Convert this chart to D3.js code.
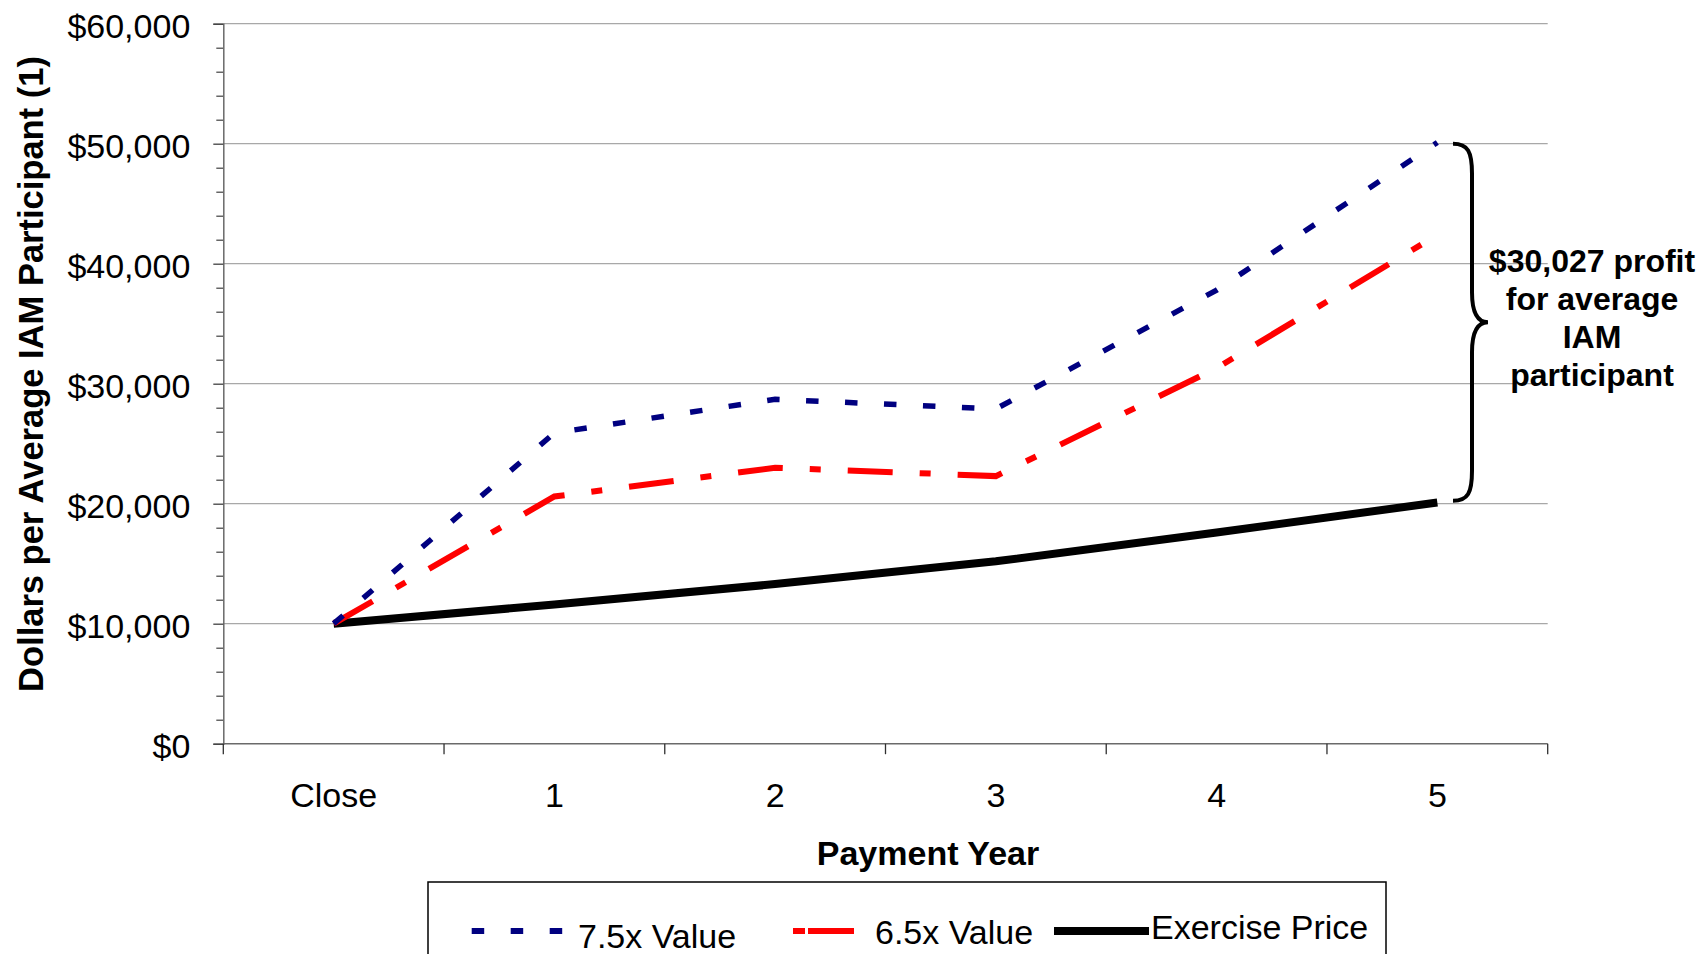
<!DOCTYPE html>
<html>
<head>
<meta charset="utf-8">
<script src="https://cdn.jsdelivr.net/npm/d3@7"></script>
<style>
  html, body { margin: 0; padding: 0; background: #fff; }
  svg { display: block; }
  text { font-family: "Liberation Sans", Arial, Helvetica, sans-serif; }
</style>
</head>
<body>
<svg id="chart" width="1700" height="954"></svg>
<script>
// ---- data ----
const categories = ["Close", "1", "2", "3", "4", "5"];
const value75 = [10000, 25900, 28700, 27900, 37800, 50100];
const value65 = [10000, 20600, 23000, 22300, 31300, 42400];
const exercisePrice = [10000, 11600, 13300, 15200, 17600, 20100];
const yMajorTicks = [0, 10000, 20000, 30000, 40000, 50000, 60000];
const yMinorTicks = d3.range(0, 60001, 2000).filter(v => v % 10000 !== 0);
const seriesNames = ["7.5x Value", "6.5x Value", "Exercise Price"];
const annotationLines = ["$30,027 profit", "for average", "IAM", "participant"];
const braceRange = [50000, 20000];
const yTitle = "Dollars per Average IAM Participant (1)";
const xTitle = "Payment Year";

// ---- layout ----
const svg = d3.select("#chart");
const plotL = 223.3, plotR = 1547.7, plotT = 23.7, plotB = 743.7;
const FONT = 34;

const x = d3.scaleBand().domain(categories).range([plotL, plotR]).padding(0);
const xc = c => x(c) + x.bandwidth() / 2;
const y = d3.scaleLinear().domain([0, 60000]).range([plotB, plotT]);
const fmt = v => "$" + d3.format(",")(v);

// gridlines
svg.append("g").selectAll("line")
  .data(yMajorTicks.filter(v => v > 0))
  .join("line")
  .attr("x1", plotL).attr("x2", plotR)
  .attr("y1", d => y(d)).attr("y2", d => y(d))
  .attr("stroke", "#a8a8a8").attr("stroke-width", 1.3);

// y axis minor ticks
const yMinor = svg.append("g").attr("transform", `translate(${plotL},0)`)
  .call(d3.axisLeft(y).tickValues(yMinorTicks).tickSize(7).tickFormat(""));
yMinor.select(".domain").remove();
yMinor.selectAll("line").attr("stroke", "#404040").attr("stroke-width", 1.2);

// y axis major
const yAx = svg.append("g").attr("transform", `translate(${plotL},0)`)
  .call(d3.axisLeft(y).tickValues(yMajorTicks).tickSize(10).tickPadding(23).tickFormat(fmt));
yAx.select(".domain").attr("stroke", "#6a6a6a").attr("stroke-width", 1.5);
yAx.selectAll(".tick line").attr("stroke", "#404040").attr("stroke-width", 1.3);
yAx.selectAll("text").attr("font-size", FONT).attr("fill", "#000")
  .attr("font-family", '"Liberation Sans", Arial, sans-serif').attr("dy", "0.4em");

// x axis line and boundary ticks
svg.append("line").attr("x1", plotL).attr("x2", plotR).attr("y1", plotB).attr("y2", plotB)
  .attr("stroke", "#6a6a6a").attr("stroke-width", 1.6);
const boundaries = categories.map(c => x(c)).concat([x.range()[1]]);
svg.append("g").selectAll("line").data(boundaries).join("line")
  .attr("x1", d => d).attr("x2", d => d).attr("y1", plotB).attr("y2", plotB + 10.5)
  .attr("stroke", "#303030").attr("stroke-width", 1.3);

// x labels
const xAx = svg.append("g").attr("transform", `translate(0,${plotB})`)
  .call(d3.axisBottom(x).tickSize(0).tickPadding(39));
xAx.select(".domain").remove();
xAx.selectAll("text").attr("font-size", FONT).attr("fill", "#000")
  .attr("font-family", '"Liberation Sans", Arial, sans-serif');

// axis titles
svg.append("text")
  .attr("transform", `translate(43,374) rotate(-90)`)
  .attr("text-anchor", "middle").attr("font-weight", "bold").attr("font-size", 34.5)
  .text(yTitle);
svg.append("text").attr("x", 928).attr("y", 865)
  .attr("text-anchor", "middle").attr("font-weight", "bold").attr("font-size", FONT)
  .text(xTitle);

// series
const line = d3.line().x((d, i) => xc(categories[i])).y(d => y(d));
const series = [
  { name: seriesNames[0], values: value75, color: "#000080", width: 5.5, dash: "12.5,26.5" },
  { name: seriesNames[1], values: value65, color: "#ff0000", width: 6, dash: "45,27,11,27" },
  { name: seriesNames[2], values: exercisePrice, color: "#000000", width: 8, dash: null }
];
series.slice().reverse().forEach(s => {
  svg.append("path").datum(s.values)
    .attr("d", line)
    .attr("fill", "none")
    .attr("stroke", s.color)
    .attr("stroke-width", s.width)
    .attr("stroke-dasharray", s.dash)
    .attr("stroke-linejoin", "miter");
});

// brace annotation
const bx0 = 1453, bx1 = 1472, bxt = 1488;
const bt = y(braceRange[0]), bb = y(braceRange[1]) - 3, bm = (bt + bb) / 2;
const bracePath = `M${bx0},${bt} C${bx1 - 4},${bt} ${bx1},${bt + 8} ${bx1},${bt + 30}
  L${bx1},${bm - 30} C${bx1},${bm - 8} ${bx1 + 6},${bm} ${bxt},${bm}
  C${bx1 + 6},${bm} ${bx1},${bm + 8} ${bx1},${bm + 30}
  L${bx1},${bb - 30} C${bx1},${bb - 8} ${bx1 - 4},${bb} ${bx0},${bb}`;
svg.append("path").attr("d", bracePath).attr("fill", "none")
  .attr("stroke", "#000").attr("stroke-width", 4);

svg.append("g").selectAll("text").data(annotationLines).join("text")
  .attr("x", 1592).attr("y", (d, i) => 272 + i * 38)
  .attr("text-anchor", "middle").attr("font-weight", "bold").attr("font-size", 32)
  .text(d => d);

// legend
svg.append("rect").attr("x", 428).attr("y", 882).attr("width", 958).attr("height", 90)
  .attr("fill", "#fff").attr("stroke", "#000").attr("stroke-width", 1.5);
const legendItems = [
  { s: series[0], x1: 471.7, x2: 563, ly: 931, tx: 578, ty: 948, dash: "12.5,26.5", w: 6 },
  { s: series[1], x1: 793, x2: 854, ly: 931, tx: 875, ty: 944, dash: "12,3,46,100", w: 6 },
  { s: series[2], x1: 1054, x2: 1149, ly: 931, tx: 1151, ty: 939, dash: null, w: 8 }
];
legendItems.forEach(it => {
  svg.append("line").attr("x1", it.x1).attr("x2", it.x2).attr("y1", it.ly).attr("y2", it.ly)
    .attr("stroke", it.s.color).attr("stroke-width", it.w).attr("stroke-dasharray", it.dash);
  svg.append("text").attr("x", it.tx).attr("y", it.ty).attr("font-size", FONT).text(it.s.name);
});
</script>
</body>
</html>
